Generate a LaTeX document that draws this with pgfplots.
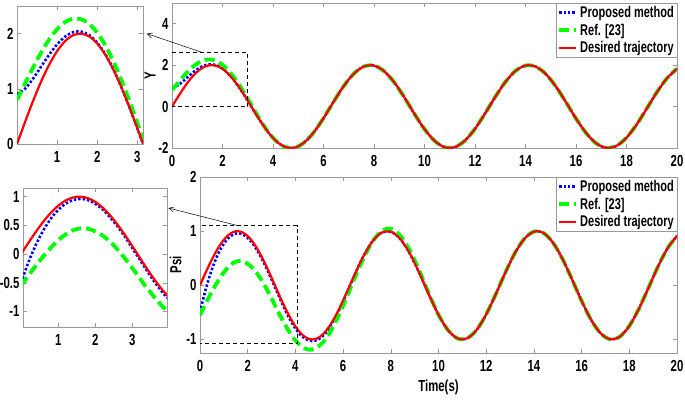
\documentclass[border=0pt]{standalone}
\usepackage{pgfplots}
\pgfplotsset{compat=1.18}
\usepackage{pgfplotstable}
\usepackage{fontspec}
\setmainfont{Liberation Sans}[FakeStretch=0.71]
\usetikzlibrary{arrows.meta}

\pgfplotstableread{
t yd yb yg pd pb pg
0.0 0.000 0.900 0.800 0.000 -0.500 -0.550
0.2 0.397 1.000 1.093 0.199 -0.136 -0.371
0.4 0.779 1.183 1.384 0.389 0.164 -0.198
0.6 1.129 1.400 1.655 0.565 0.414 -0.036
0.8 1.435 1.617 1.892 0.717 0.616 0.109
1.0 1.683 1.805 2.080 0.841 0.768 0.240
1.2 1.864 1.946 2.209 0.932 0.877 0.341
1.4 1.971 2.026 2.271 0.985 0.940 0.414
1.6 1.999 2.036 2.260 1.000 0.960 0.447
1.8 1.948 1.973 2.175 0.974 0.940 0.442
2.0 1.819 1.835 2.016 0.909 0.875 0.396
2.2 1.617 1.628 1.789 0.809 0.778 0.323
2.4 1.351 1.358 1.500 0.675 0.641 0.216
2.6 1.031 1.031 1.161 0.516 0.486 0.083
2.8 0.670 0.670 0.783 0.335 0.305 -0.073
3.0 0.282 0.282 0.380 0.141 0.106 -0.241
3.2 -0.117 -0.117 -0.032 -0.058 -0.093 -0.418
3.4 -0.511 -0.511 -0.461 -0.256 -0.291 -0.593
3.6 -0.885 -0.885 -0.855 -0.443 -0.483 -0.751
3.8 -1.224 -1.224 -1.209 -0.612 -0.652 -0.900
4.0 -1.514 -1.514 -1.509 -0.757 -0.797 -1.018
4.2 -1.743 -1.743 -1.743 -0.872 -0.907 -1.108
4.4 -1.903 -1.903 -1.903 -0.952 -0.982 -1.166
4.6 -1.987 -1.987 -1.987 -0.994 -1.024 -1.190
4.8 -1.992 -1.992 -1.992 -0.996 -1.026 -1.170
5.0 -1.918 -1.918 -1.918 -0.959 -0.989 -1.118
5.2 -1.767 -1.767 -1.767 -0.883 -0.913 -1.028
5.4 -1.546 -1.546 -1.546 -0.773 -0.798 -0.908
5.6 -1.263 -1.263 -1.263 -0.631 -0.656 -0.743
5.8 -0.929 -0.929 -0.929 -0.465 -0.485 -0.571
6.0 -0.559 -0.559 -0.559 -0.279 -0.299 -0.376
6.2 -0.166 -0.166 -0.166 -0.083 -0.098 -0.172
6.4 0.233 0.233 0.233 0.117 0.107 0.047
6.8 0.988 0.988 0.988 0.494 0.494 0.448
7.2 1.587 1.587 1.587 0.794 0.794 0.786
7.6 1.936 1.936 1.936 0.968 0.968 0.999
8.0 1.979 1.979 1.979 0.989 0.989 1.046
8.4 1.709 1.709 1.709 0.855 0.855 0.918
8.8 1.170 1.170 1.170 0.585 0.585 0.643
9.2 0.446 0.446 0.446 0.223 0.223 0.267
9.6 -0.349 -0.349 -0.349 -0.174 -0.174 -0.157
10.0 -1.088 -1.088 -1.088 -0.544 -0.544 -0.544
10.4 -1.656 -1.656 -1.656 -0.828 -0.828 -0.828
10.8 -1.962 -1.962 -1.962 -0.981 -0.981 -0.981
11.2 -1.958 -1.958 -1.958 -0.979 -0.979 -0.979
11.6 -1.646 -1.646 -1.646 -0.823 -0.823 -0.823
12.0 -1.073 -1.073 -1.073 -0.537 -0.537 -0.537
12.4 -0.331 -0.331 -0.331 -0.166 -0.166 -0.166
12.8 0.463 0.463 0.463 0.232 0.232 0.232
13.2 1.184 1.184 1.184 0.592 0.592 0.592
13.6 1.718 1.718 1.718 0.859 0.859 0.859
14.0 1.981 1.981 1.981 0.991 0.991 0.991
14.4 1.931 1.931 1.931 0.966 0.966 0.966
14.8 1.577 1.577 1.577 0.788 0.788 0.788
15.2 0.973 0.973 0.973 0.486 0.486 0.486
15.6 0.216 0.216 0.216 0.108 0.108 0.108
16.0 -0.576 -0.576 -0.576 -0.288 -0.288 -0.288
16.4 -1.276 -1.276 -1.276 -0.638 -0.638 -0.638
16.8 -1.775 -1.775 -1.775 -0.888 -0.888 -0.888
17.2 -1.994 -1.994 -1.994 -0.997 -0.997 -0.997
17.6 -1.898 -1.898 -1.898 -0.949 -0.949 -0.949
18.0 -1.502 -1.502 -1.502 -0.751 -0.751 -0.751
18.4 -0.869 -0.869 -0.869 -0.435 -0.435 -0.435
18.8 -0.099 -0.099 -0.099 -0.050 -0.050 -0.050
19.2 0.687 0.687 0.687 0.343 0.343 0.343
19.6 1.364 1.364 1.364 0.682 0.682 0.682
20.0 1.826 1.826 1.826 0.913 0.913 0.913
}\data

\pgfplotsset{
  mystyle/.style={
    scale only axis,
    axis line style={black!40},
    tick style={black!40, line width=0.5pt},
    major tick length=4pt,
    tick align=inside,
    tick label style={font=\bfseries\fontsize{16}{16}\selectfont, text=black},
    xticklabel style={yshift=-4pt},
    label style={font=\bfseries\fontsize{16}{16}\selectfont},
    clip=true,
  },
  bluel/.style={color=blue, line width=2.6pt, dash pattern=on 2.4pt off 2pt},
  greenl/.style={color=green, line width=3.8pt, dash pattern=on 10pt off 5pt},
  redl/.style={color=red, line width=2.2pt},
  mylegend/.style={
    legend style={at={(1,1)}, anchor=north east, draw=black!40, fill=white,
      font=\bfseries\fontsize{15.5}{15.5}\selectfont, inner sep=1pt, row sep=1pt,
      cells={anchor=west}},
    legend cell align=left,
  },
}

\begin{document}
\begin{tikzpicture}[x=1pt,y=1pt]
\path[use as bounding box] (0,0) rectangle (685,400);

% top main
\begin{axis}[mystyle, mylegend, at={(172pt,252pt)}, anchor=south west,
  width=505pt, height=145pt, xmin=0, xmax=20, ymin=-2, ymax=5,
  xtick={0,2,4,6,8,10,12,14,16,18,20}, xticklabels={0,2,4,6,8,10,12,14,16,18,20},
  ytick={-2,0,2,4}, yticklabels={-2,0,2,4},
  ylabel={Y}, ylabel style={yshift=-4pt}]
\addlegendimage{bluel}
\addlegendentry{Proposed method}
\addlegendimage{greenl}
\addlegendentry{Ref. [23]}
\addlegendimage{redl}
\addlegendentry{Desired trajectory}
\addplot[bluel, smooth, forget plot] table[x=t, y=yb] {\data};
\addplot[greenl, smooth, forget plot] table[x=t, y=yg] {\data};
\addplot[redl, smooth, forget plot] table[x=t, y=yd] {\data};
\addplot[black, line width=0.7pt, dash pattern=on 4pt off 3pt, forget plot] coordinates {(-0.05,0) (3,0) (3,2.6) (-0.05,2.6) (-0.05,0)};
\coordinate (A1) at (axis cs:1.23,2.6);
\end{axis}

% top inset
\begin{axis}[mystyle, at={(17pt,256pt)}, anchor=south west,
  width=126pt, height=138pt, xmin=0, xmax=3.14, ymin=0, ymax=2.5,
  xtick={1,2,3}, xticklabels={1,2,3}, ytick={0,1,2}, yticklabels={0,1,2}]
\addplot[bluel, smooth] table[x=t, y=yb] {\data};
\addplot[greenl, smooth] table[x=t, y=yg] {\data};
\addplot[redl, smooth] table[x=t, y=yd] {\data};
\coordinate (B1) at (rel axis cs:1.03,0.8);
\end{axis}

% bottom main
\begin{axis}[mystyle, mylegend, at={(200pt,47pt)}, anchor=south west,
  width=477pt, height=176pt, xmin=0, xmax=20, ymin=-1.25, ymax=2,
  xtick={0,2,4,6,8,10,12,14,16,18,20}, xticklabels={0,2,4,6,8,10,12,14,16,18,20},
  ytick={-1,0,1,2}, yticklabels={-1,0,1,2},
  ylabel={Psi}, ylabel style={yshift=-2pt}, xlabel={Time(s)}, xlabel style={yshift=-1pt}]
\addlegendimage{bluel}
\addlegendentry{Proposed method}
\addlegendimage{greenl}
\addlegendentry{Ref. [23]}
\addlegendimage{redl}
\addlegendentry{Desired trajectory}
\addplot[bluel, smooth, forget plot] table[x=t, y=pb] {\data};
\addplot[greenl, smooth, forget plot] table[x=t, y=pg] {\data};
\addplot[redl, smooth, forget plot] table[x=t, y=pd] {\data};
\addplot[black, line width=0.7pt, dash pattern=on 4pt off 3pt, forget plot] coordinates {(-0.08,-1.08) (4.07,-1.08) (4.07,1.1) (-0.08,1.1) (-0.08,-1.08)};
\coordinate (A2) at (axis cs:1.6,1.1);
\end{axis}

% bottom inset
\begin{axis}[mystyle, at={(23pt,73pt)}, anchor=south west,
  width=144pt, height=139pt, xmin=0.05, xmax=3.94, ymin=-1.27, ymax=1.15,
  xtick={1,2,3}, xticklabels={1,2,3}, ytick={-1,-0.5,0,0.5,1}, yticklabels={-1,-0.5,0,0.5,1}]
\addplot[bluel, smooth] table[x=t, y=pb] {\data};
\addplot[greenl, smooth] table[x=t, y=pg] {\data};
\addplot[redl, smooth] table[x=t, y=pd] {\data};
\coordinate (B2) at (rel axis cs:1.01,0.856);
\end{axis}

\draw[black, line width=0.5pt, -{Straight Barb[length=5pt,width=5pt]}] (A1) -- (B1);
\draw[black, line width=0.5pt, -{Straight Barb[length=5pt,width=5pt]}] (A2) -- (B2);
\end{tikzpicture}
\end{document}
